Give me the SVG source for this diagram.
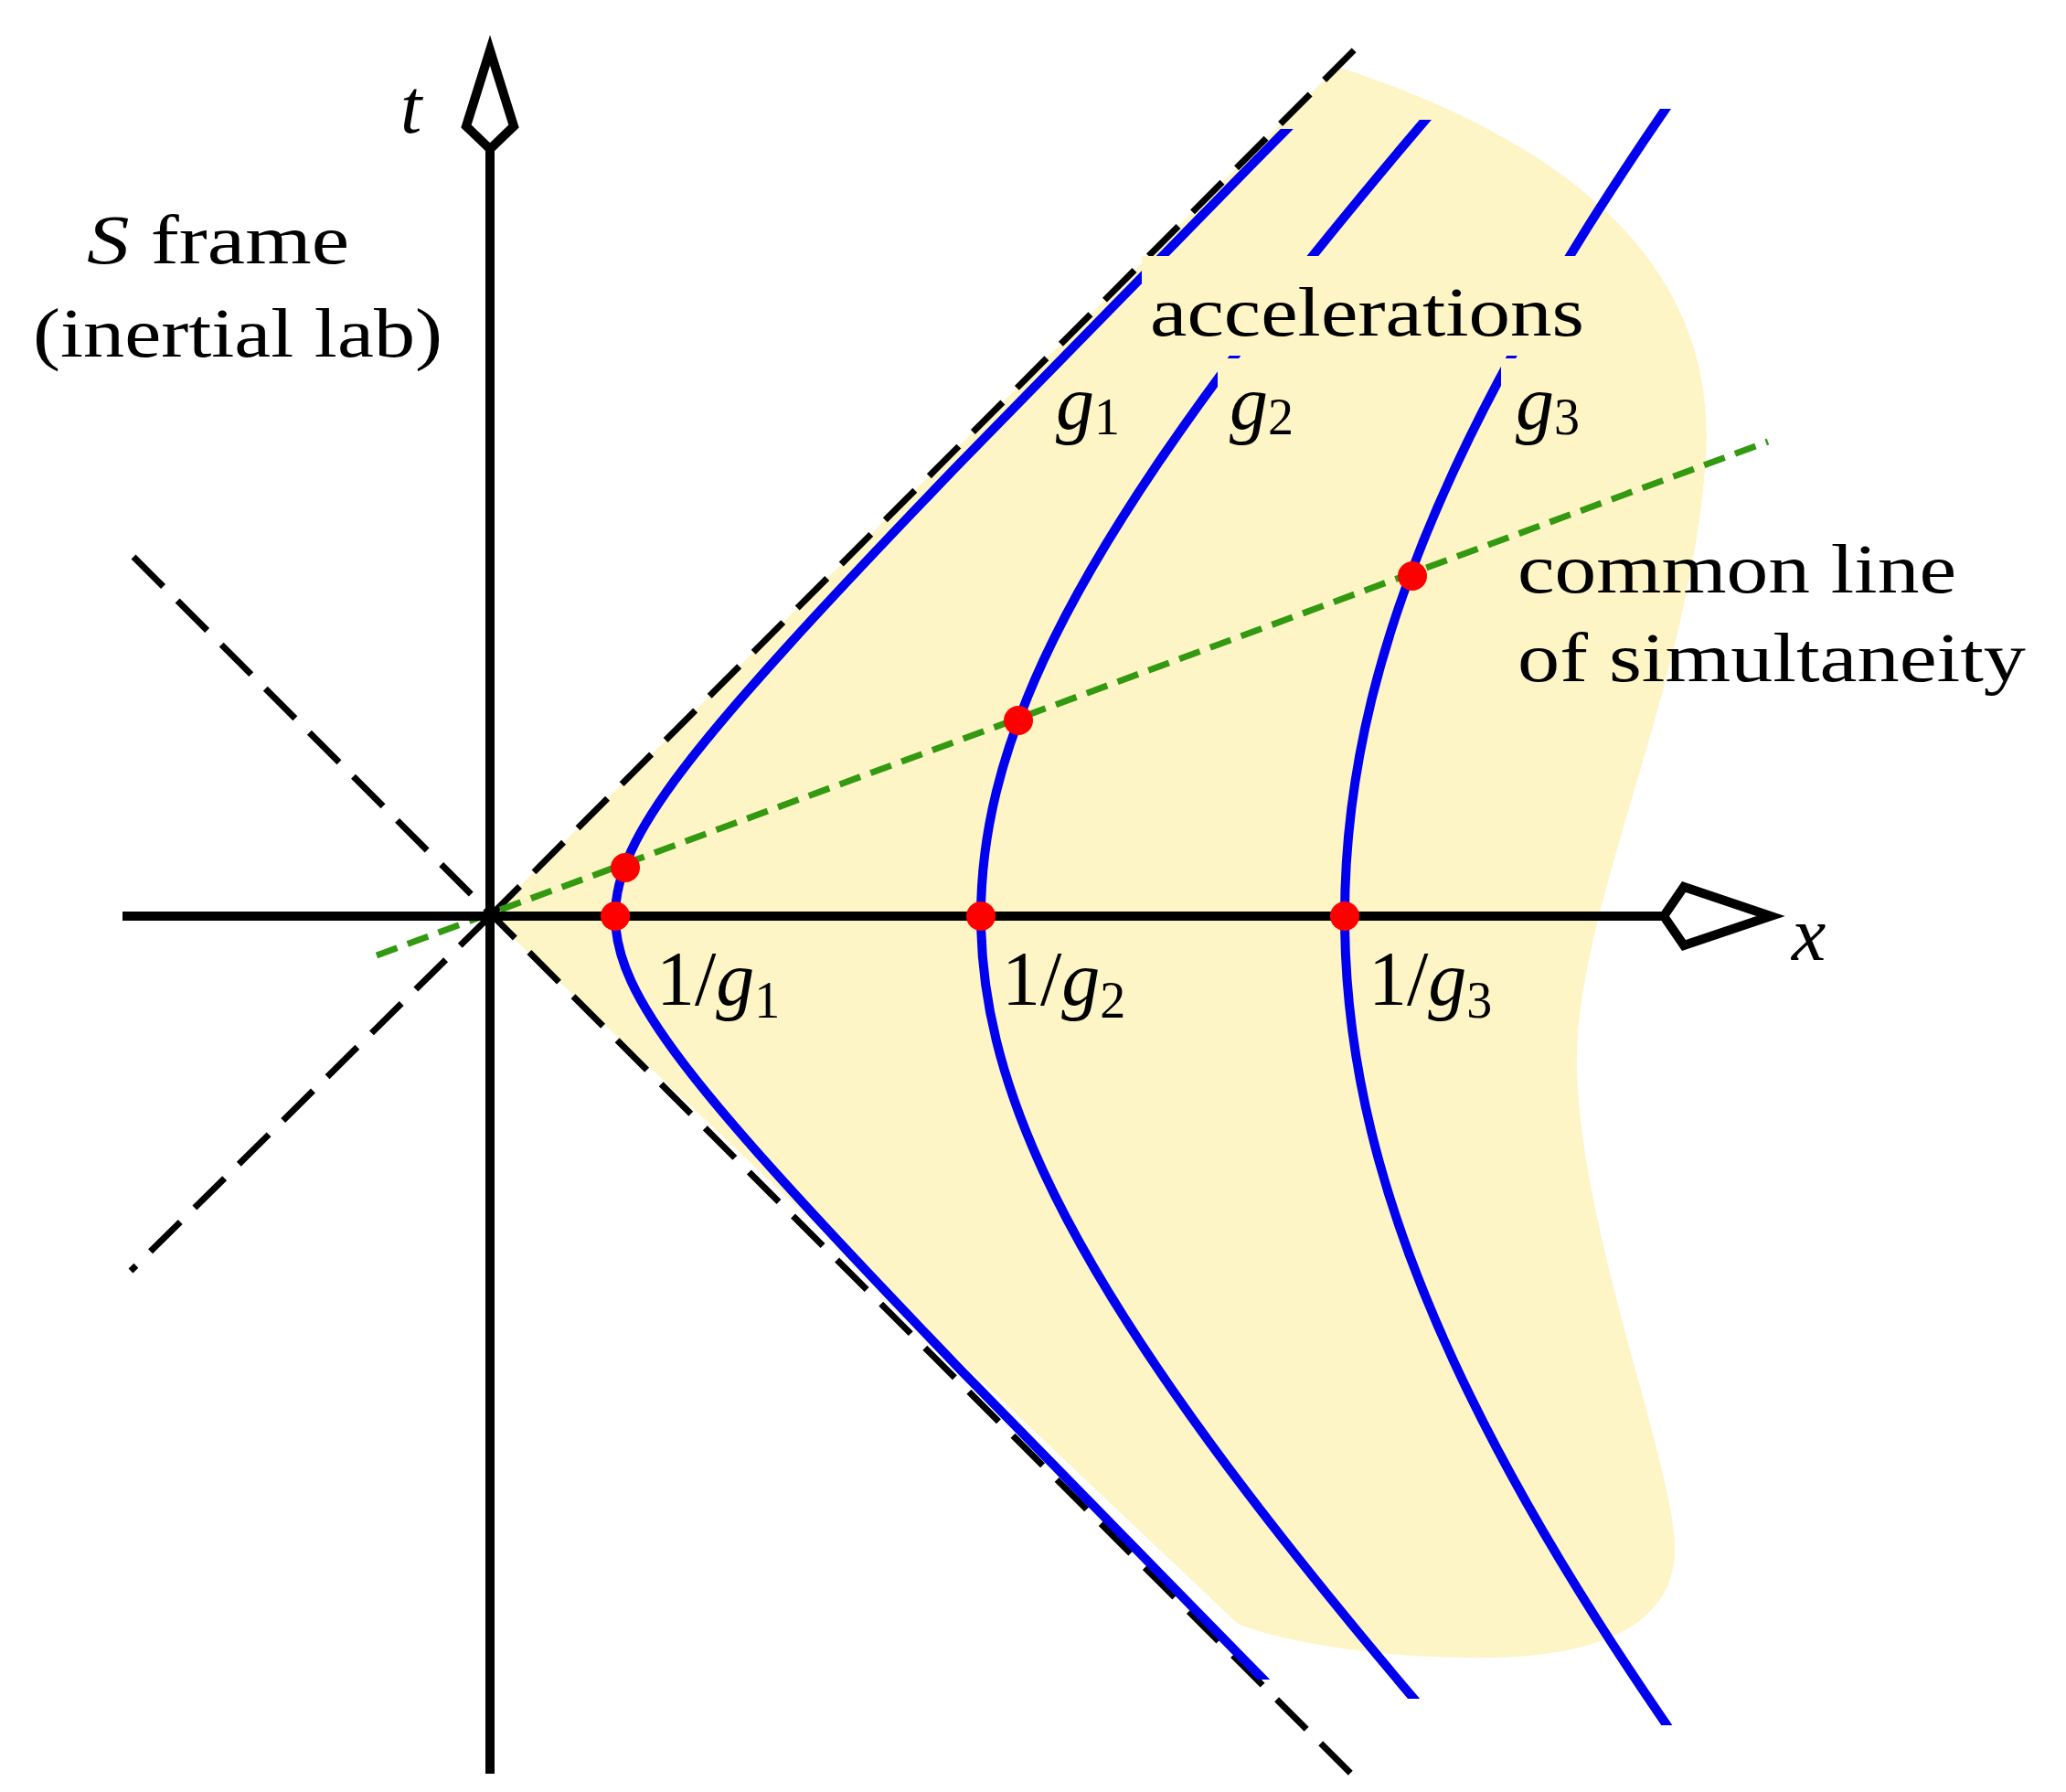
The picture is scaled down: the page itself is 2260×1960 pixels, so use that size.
<svg xmlns="http://www.w3.org/2000/svg" width="2260" height="1960" viewBox="0 0 2260 1960">
<style>
.cone{fill:none;stroke:#000;stroke-width:7;stroke-dasharray:46 22}
.hyp{fill:none;stroke:#0000ee;stroke-width:10}
.ax{fill:none;stroke:#000;stroke-width:10}
.t{font-family:"Liberation Serif",serif;font-size:76px;fill:#000}
.b{font-size:84px}
.i{font-style:italic}
.sub{font-size:56px}
.dot{fill:#ff0000}
</style>
<defs>
<path id="hyp" class="hyp" vector-effect="non-scaling-stroke" d="M6.769,-6.69473 C6.54584,-6.4691 6.33396,-6.25461 6.13229,-6.0502 C5.12392,-5.02815 4.36668,-4.25389 3.7622,-3.62686 C3.15772,-2.99983 2.70729,-2.52135 2.35241,-2.12928 C1.99753,-1.73721 1.73895,-1.43238 1.54308,-1.1752 C1.34721,-0.91802 1.21448,-0.70904 1.12763,-0.5211 C1.04078,-0.33316 1,-0.16667 1,0 C1,0.16667 1.04078,0.33316 1.12763,0.5211 C1.21448,0.70904 1.34721,0.91802 1.54308,1.1752 C1.73895,1.43238 1.99753,1.73721 2.35241,2.12928 C2.70729,2.52135 3.15772,2.99983 3.7622,3.62686 C4.36668,4.25389 5.12392,5.02815 6.13229,6.0502 C6.33396,6.25461 6.54584,6.4691 6.769,6.69473"/>
<clipPath id="c1" clipPathUnits="userSpaceOnUse"><rect x="0" y="141" width="2260" height="1696"/></clipPath>
<clipPath id="c2" clipPathUnits="userSpaceOnUse"><rect x="0" y="131" width="2260" height="1727"/></clipPath>
<clipPath id="c3" clipPathUnits="userSpaceOnUse"><rect x="0" y="119" width="2260" height="1768"/></clipPath>
</defs>
<rect width="2260" height="1960" fill="#fff"/>
<path id="blob" d="M536,1002 L1463,73 C1700,150 1880,280 1866,500 C1850,750 1720,1000 1725,1170 C1730,1350 1830,1600 1832,1690 C1835,1800 1700,1815 1602,1813 C1500,1812 1400,1795 1354,1776 Z" fill="#fdf5c6"/>
<g id="connectors">
<line class="cone" x1="536" y1="1002" x2="1485" y2="51"/>
<line class="cone" x1="536" y1="1002" x2="143" y2="1390"/>
<line class="cone" x1="146" y1="609" x2="1482" y2="1944"/>
<g id="curve1" clip-path="url(#c1)"><use href="#hyp" transform="translate(536,1002) scale(137,-137)"/></g>
<g id="curve2" clip-path="url(#c2)"><use href="#hyp" transform="translate(536,1002) scale(537,-537)"/></g>
<g id="curve3" clip-path="url(#c3)"><use href="#hyp" transform="translate(536,1002) scale(935,-935)"/></g>
<line x1="412" y1="1045" x2="1934" y2="483" stroke="#339911" stroke-width="7" stroke-dasharray="24 12"/>
</g>
<g id="axes">
<line class="ax" x1="134" y1="1002" x2="1820" y2="1002"/>
<path class="ax" d="M1820,1002 L1842,970 L1937,1002 L1842,1034 Z" fill="#fff"/>
<line class="ax" x1="536" y1="1940" x2="536" y2="163"/>
<path class="ax" d="M536,163 L510,138 L536,55 L562,138 Z" fill="#fff"/>
</g>
<g id="labels">
<rect x="1249" y="280" width="495" height="109" fill="#fdf5c6"/>
<rect x="1332" y="392" width="102" height="90" fill="#fdf5c6"/>
<rect x="1642" y="392" width="102" height="90" fill="#fdf5c6"/>
<text class="t b i" x="438" y="145">t</text>
<text class="t" x="95" y="288" textLength="287" lengthAdjust="spacingAndGlyphs"><tspan class="i">S</tspan> frame</text>
<text class="t" x="36" y="390" textLength="448" lengthAdjust="spacingAndGlyphs">(inertial lab)</text>
<text class="t" x="1258" y="367" textLength="475" lengthAdjust="spacingAndGlyphs">accelerations</text>
<text class="t b i" x="1155" y="469">g<tspan class="sub" font-style="normal" dy="6">1</tspan></text>
<text class="t b i" x="1345" y="469">g<tspan class="sub" font-style="normal" dy="6">2</tspan></text>
<text class="t b i" x="1658" y="469">g<tspan class="sub" font-style="normal" dy="6">3</tspan></text>
<text class="t" x="1660" y="648" textLength="480" lengthAdjust="spacingAndGlyphs">common line</text>
<text class="t" x="1660" y="745" textLength="556" lengthAdjust="spacingAndGlyphs">of simultaneity</text>
<text class="t b" x="718" y="1099">1/<tspan class="i">g</tspan><tspan class="sub" dy="14">1</tspan></text>
<text class="t b" x="1096" y="1099">1/<tspan class="i">g</tspan><tspan class="sub" dy="14">2</tspan></text>
<text class="t b" x="1497" y="1099">1/<tspan class="i">g</tspan><tspan class="sub" dy="14">3</tspan></text>
<text class="t b i" x="1960" y="1050">x</text>
</g>
<g id="dots">
<circle class="dot" cx="684" cy="949" r="16"/>
<circle class="dot" cx="673" cy="1002" r="16"/>
<circle class="dot" cx="1114" cy="788" r="16"/>
<circle class="dot" cx="1073" cy="1002" r="16"/>
<circle class="dot" cx="1545" cy="630" r="16"/>
<circle class="dot" cx="1471" cy="1002" r="16"/>
</g>
</svg>
